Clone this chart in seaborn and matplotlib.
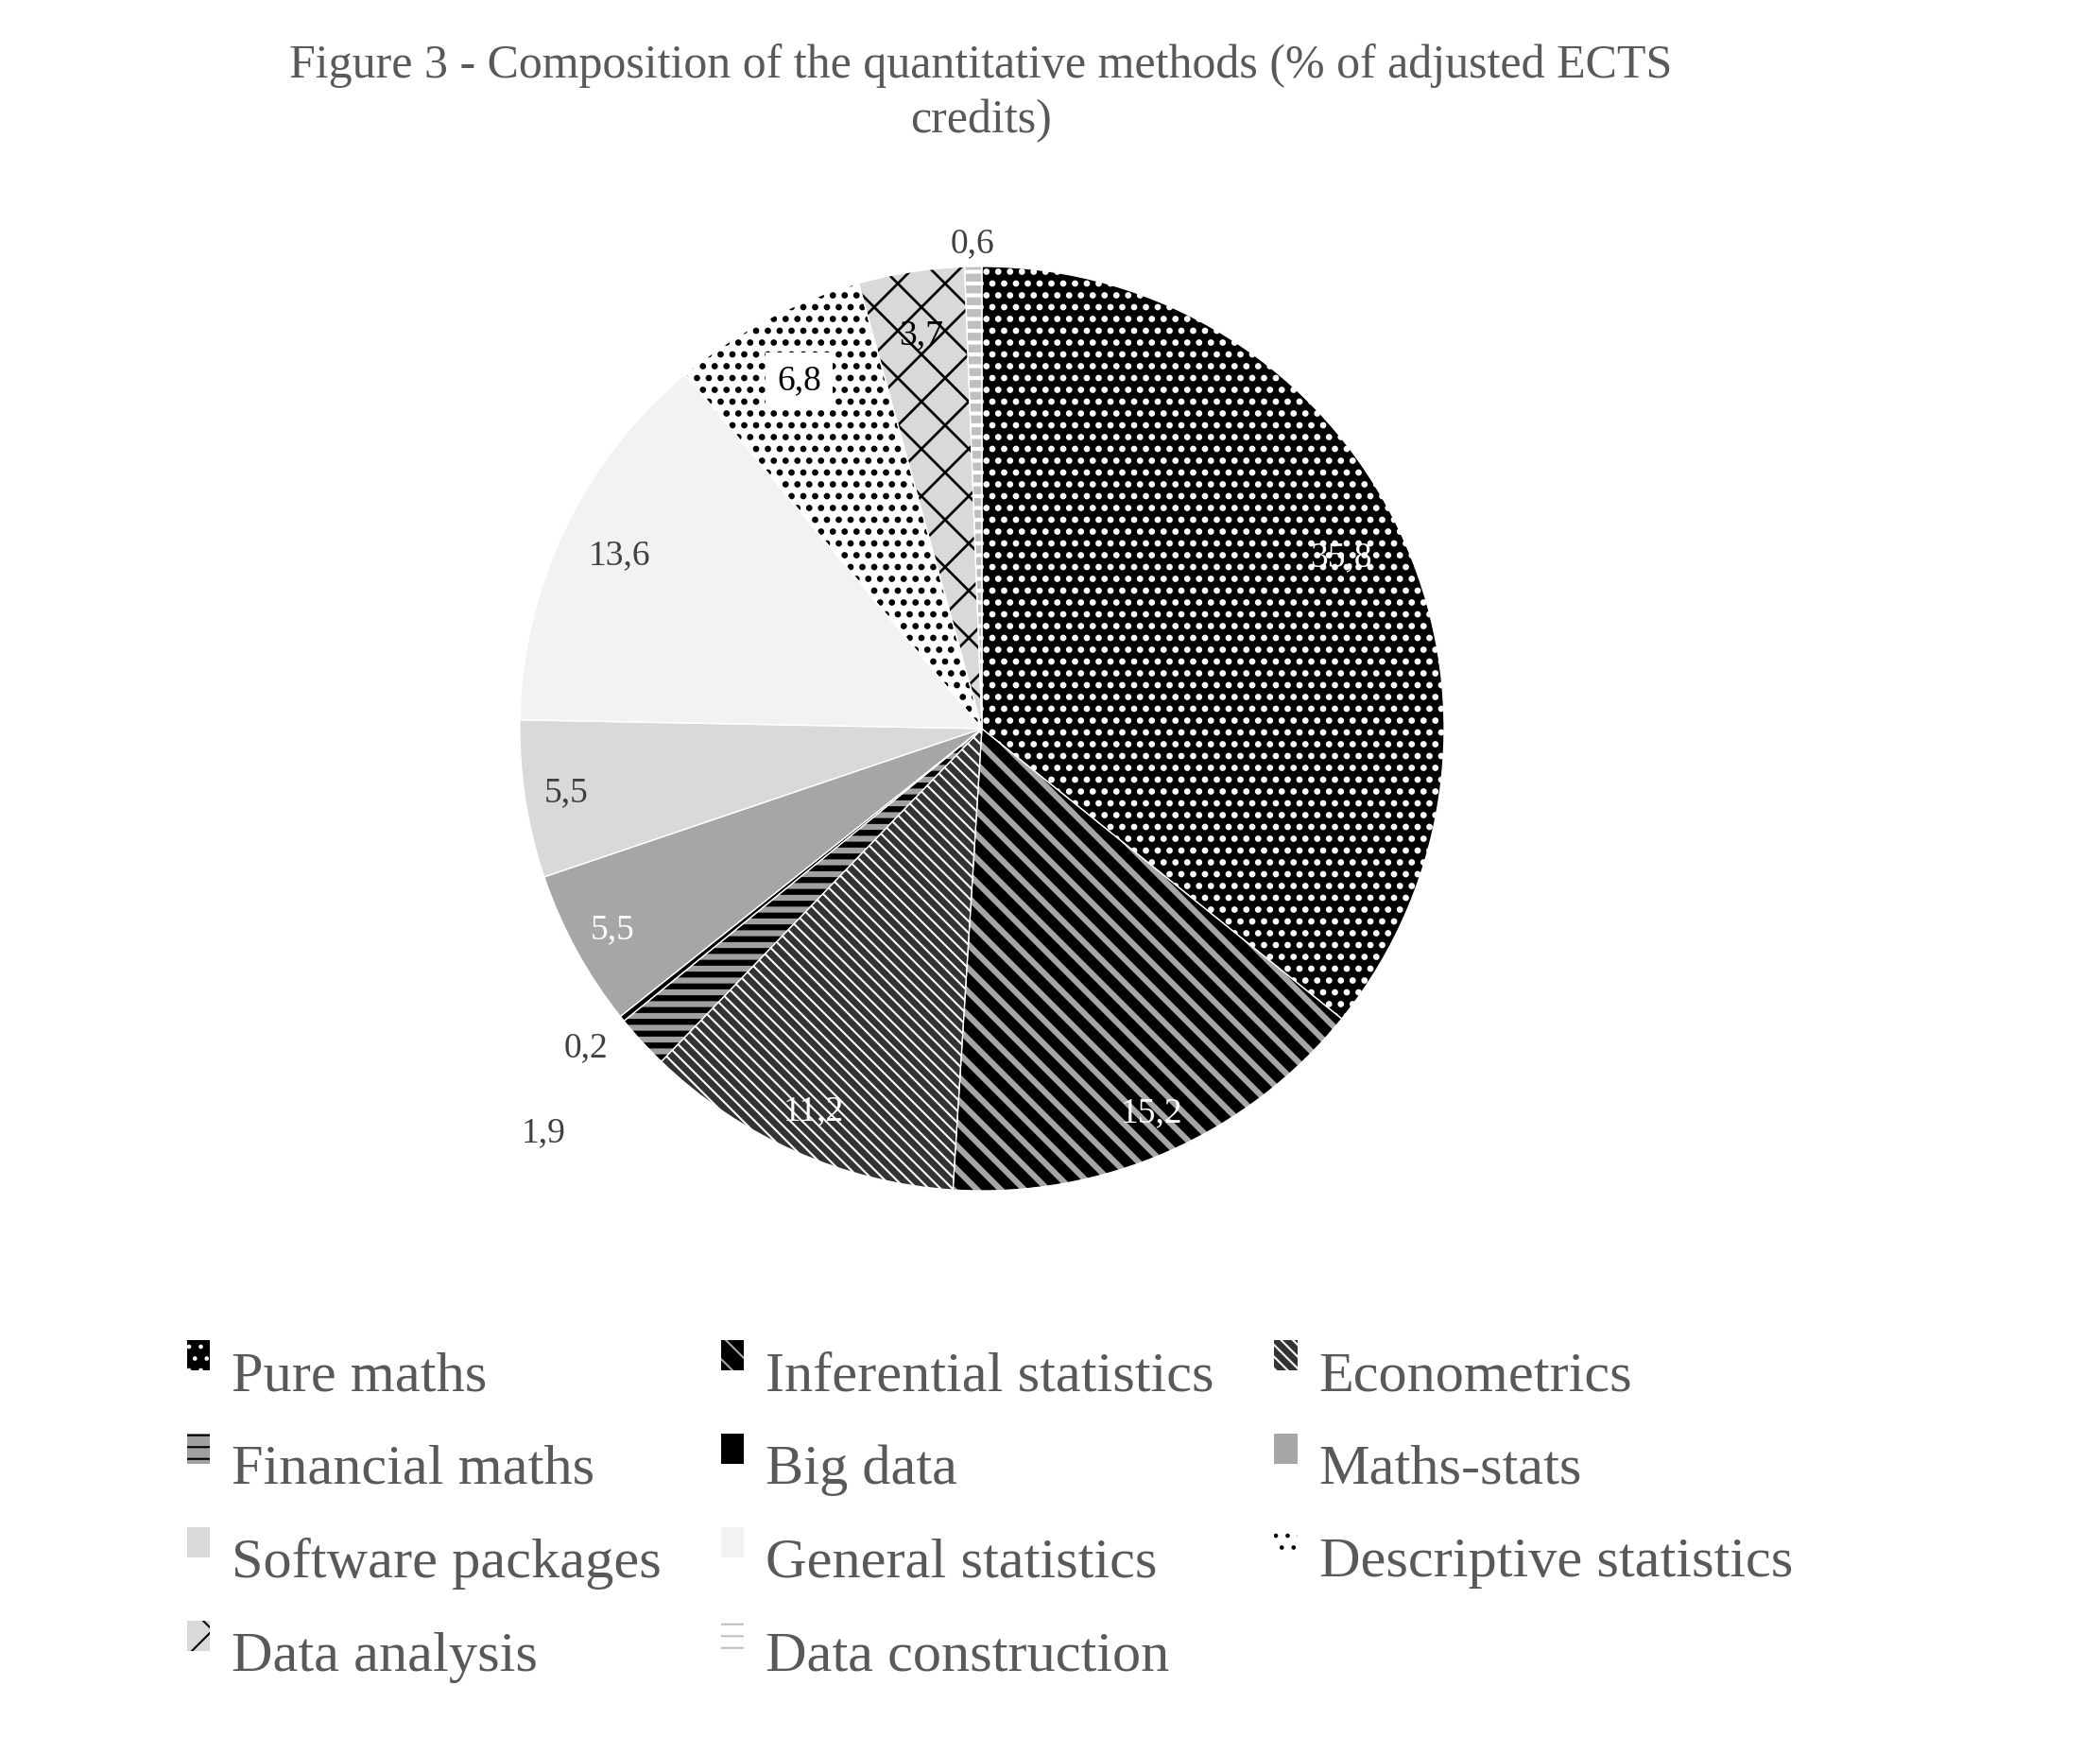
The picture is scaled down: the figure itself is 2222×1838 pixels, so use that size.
import numpy as np
import matplotlib
matplotlib.use("Agg")
import matplotlib.pyplot as plt
from matplotlib.patches import Rectangle
from matplotlib.legend_handler import HandlerPatch
import seaborn as sns

# ------------------------------------------------------------
# DATA
# ------------------------------------------------------------
categories = [
    "Pure maths", "Inferential statistics", "Econometrics",
    "Financial maths", "Big data", "Maths-stats",
    "Software packages", "General statistics", "Descriptive statistics",
    "Data analysis", "Data construction",
]
shares = [35.8, 15.2, 11.2, 1.9, 0.2, 5.5, 5.5, 13.6, 6.8, 3.7, 0.6]

title = "Figure 3 - Composition of the quantitative methods (% of adjusted ECTS\ncredits)"

# ------------------------------------------------------------
# STYLE
# ------------------------------------------------------------
face_colors = ["#000000", "#000000", "#333333", "#a0a0a0", "#000000", "#a6a6a6",
               "#d9d9d9", "#f2f2f2", "#ffffff", "#d9d9d9", "#ffffff"]
hatch_colors = ["#ffffff", "#a6a6a6", "#ffffff", "#000000", "#000000", "#a6a6a6",
                "#d9d9d9", "#f2f2f2", "#000000", "#000000", "#bfbfbf"]
hatches = ["..", "\\\\", "\\\\\\\\", "--", "", "", "", "", "..", "x", "--"]
hatch_widths = [2.0, 3.0, 1.0, 3.0, 1.0, 1.0, 1.0, 1.0, 2.0, 1.3, 4.0]
label_colors = ["white", "white", "white", "#404040", "#404040", "white",
                "#404040", "#404040", "#000000", "#000000", "#404040"]
label_radius = [0.86, 0.91, 0.905, 1.29, 1.10, 0.91, 0.91, 0.87, 0.85, 0.86, 1.05]

sns.set_theme(style="white")
plt.rcParams["font.family"] = ["Liberation Serif", "DejaVu Serif"]


class RaisedSquare(HandlerPatch):
    """Small marker sitting up by the cap height, as in the original."""
    def create_artists(self, legend, orig_handle, xdescent, ydescent,
                       width, height, fontsize, trans):
        p = Rectangle((-xdescent, 0.35 * fontsize), 0.4 * fontsize, 0.53 * fontsize)
        self.update_prop(p, orig_handle, legend)
        p.set_transform(trans)
        return [p]


DPI = 150
fig = plt.figure(figsize=(2222 / DPI, 1838 / DPI), dpi=DPI)
fig.patch.set_facecolor("white")

ax = fig.add_axes([550 / 2222, 578 / 1838, 978 / 2222, 978 / 1838])

wedges, _ = ax.pie(shares, startangle=90, counterclock=False,
                   colors=face_colors, wedgeprops=dict(linewidth=0))

for w, h, hc, hw in zip(wedges, hatches, hatch_colors, hatch_widths):
    w.set_edgecolor(hc)
    w.set_linewidth(0)
    if h:
        w.set_hatch(h)
        if hasattr(w, "set_hatch_linewidth"):
            w.set_hatch_linewidth(hw)

# thin white separators between slices
ax.pie(shares, startangle=90, counterclock=False,
       wedgeprops=dict(fill=False, edgecolor="white", linewidth=0.6))

# ------------------------------------------------------------
# DATA LABELS
# ------------------------------------------------------------
for i, w in enumerate(wedges):
    theta = np.deg2rad((w.theta1 + w.theta2) / 2)
    r = label_radius[i]
    txt = f"{shares[i]:.1f}".replace(".", ",")
    kw = {}
    if categories[i] == "Descriptive statistics":
        kw["bbox"] = dict(facecolor="white", edgecolor="none", pad=6)
    ax.text(r * np.cos(theta), r * np.sin(theta), txt,
            ha="center", va="center", fontsize=18,
            color=label_colors[i], **kw)

ax.set_xlim(-1, 1)
ax.set_ylim(-1, 1)
ax.axis("off")

# ------------------------------------------------------------
# TITLE + LEGEND
# ------------------------------------------------------------
fig.text(0.467, 1 - 46 / 1838, title, ha="center", va="top",
         fontsize=24, color="#595959", linespacing=1.32)

# legend reads row by row, matplotlib fills column by column
order = [0, 3, 6, 9, 1, 4, 7, 10, 2, 5, 8]
leg = fig.legend([wedges[i] for i in order], [categories[i] for i in order],
                 ncol=3, loc="upper left",
                 bbox_to_anchor=(198 / 2222, 1 - 1430 / 1838),
                 frameon=False, fontsize=29, handlelength=0.4,
                 handleheight=0.4, handletextpad=0.38, columnspacing=1.05,
                 labelspacing=0.74, borderpad=0, borderaxespad=0,
                 handler_map={w: RaisedSquare() for w in wedges})
for t in leg.get_texts():
    t.set_color("#595959")

fig.savefig("out.png", dpi=DPI, facecolor="white")
